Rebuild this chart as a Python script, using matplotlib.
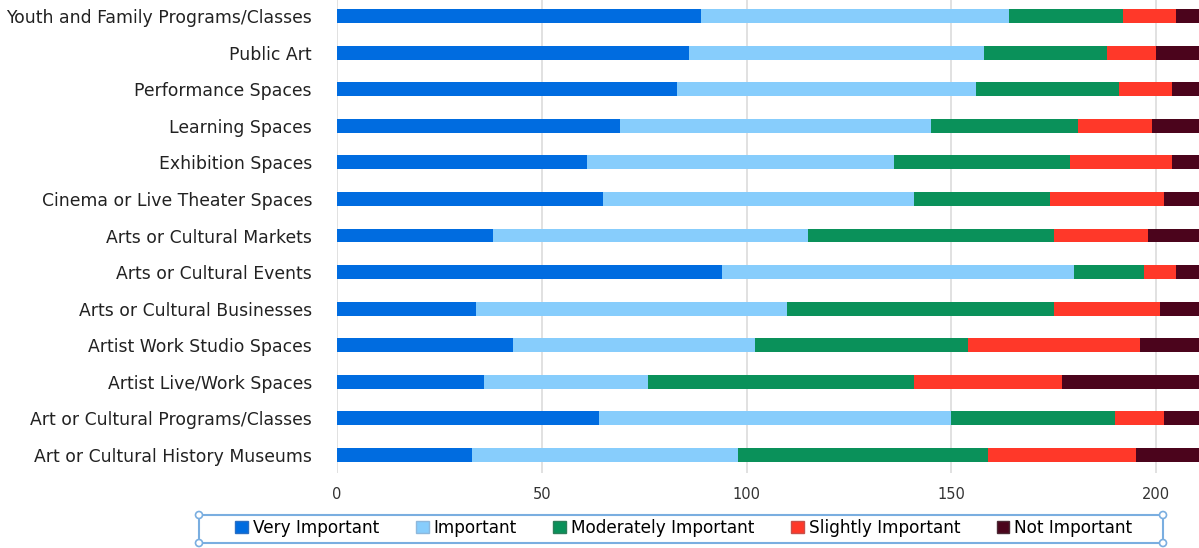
import matplotlib.pyplot as plt
import numpy as np
from matplotlib.patches import Rectangle, Circle, Patch

# survey responses per facility type (top to bottom as displayed)
categories = [
    "Youth and Family Programs/Classes",
    "Public Art",
    "Performance Spaces",
    "Learning Spaces",
    "Exhibition Spaces",
    "Cinema or Live Theater Spaces",
    "Arts or Cultural Markets",
    "Arts or Cultural Events",
    "Arts or Cultural Businesses",
    "Artist Work Studio Spaces",
    "Artist Live/Work Spaces",
    "Art or Cultural Programs/Classes",
    "Art or Cultural History Museums",
]
very_important = [89, 86, 83, 69, 61, 65, 38, 94, 34, 43, 36, 64, 33]
important = [75, 72, 73, 76, 75, 76, 77, 86, 76, 59, 40, 86, 65]
moderately_important = [28, 30, 35, 36, 43, 33, 60, 17, 65, 52, 65, 40, 61]
slightly_important = [13, 12, 13, 18, 25, 28, 23, 8, 26, 42, 36, 12, 36]
not_important = [7, 12, 8, 13, 8, 10, 14, 7, 11, 16, 35, 10, 17]

series_names = ["Very Important", "Important", "Moderately Important",
                "Slightly Important", "Not Important"]
colors = ["#006ce0", "#87cdfc", "#0a915a", "#ff3829", "#4b041c"]
edge_colors = ["#2a6fc4", "#8eb8dc", "#2c7f5a", "#c8504a", "#4b2a35"]
x_ticks = [0, 50, 100, 150, 200]

plt.rcParams["font.family"] = ["DejaVu Sans"]

W, H = 1199, 548
fig = plt.figure(figsize=(W / 100, H / 100), dpi=100)
ax = fig.add_axes([337 / W, 74.7 / H, (W - 337) / W, 475.5 / H])

data = np.array([very_important, important, moderately_important,
                 slightly_important, not_important], dtype=float)
y = np.arange(len(categories))
left = np.zeros(len(categories))
for vals, name, c in zip(data, series_names, colors):
    ax.barh(y, vals, left=left, height=0.38, color=c, label=name,
            edgecolor="none", zorder=2)
    left += vals

ax.set_xlim(0, 210.5)
ax.set_ylim(len(categories) - 0.5, -0.5)
ax.set_yticks(y)
ax.set_yticklabels(categories, fontsize=12.4, color="#222222")
ax.set_xticks(x_ticks)
ax.set_xticklabels([str(t) for t in x_ticks], fontsize=10.5, color="#333333")
ax.tick_params(axis="y", length=0, pad=18)
ax.tick_params(axis="x", length=0, pad=10)
ax.grid(axis="x", color="#dcdcdc", linewidth=1.2, zorder=0)
ax.set_axisbelow(True)
for s in ax.spines.values():
    s.set_visible(False)

# legend with its selection-style box
legend_handles = [Patch(facecolor=c, edgecolor=e, linewidth=1.0)
                  for c, e in zip(colors, edge_colors)]
fig.legend(legend_handles, series_names, loc="center",
           bbox_to_anchor=(684 / W, 1 - 528 / H), ncol=5,
           frameon=False, fontsize=12.2, handlelength=0.75,
           handleheight=0.75, handletextpad=0.3, columnspacing=2.15)

x0, x1 = 199 / W, 1163 / W
y0, y1 = 1 - 543 / H, 1 - 515 / H
fig.patches.append(Rectangle((x0, y0), x1 - x0, y1 - y0, transform=fig.transFigure,
                             fill=False, edgecolor="#7aaee0", linewidth=1.5))
for cx, cy in [(x0, y0), (x0, y1), (x1, y0), (x1, y1)]:
    fig.patches.append(Circle((cx * W, cy * H), 3.5, transform=None,
                              facecolor="white", edgecolor="#7aaee0", linewidth=1.2))

fig.savefig("out.png", dpi=100, facecolor="white")
